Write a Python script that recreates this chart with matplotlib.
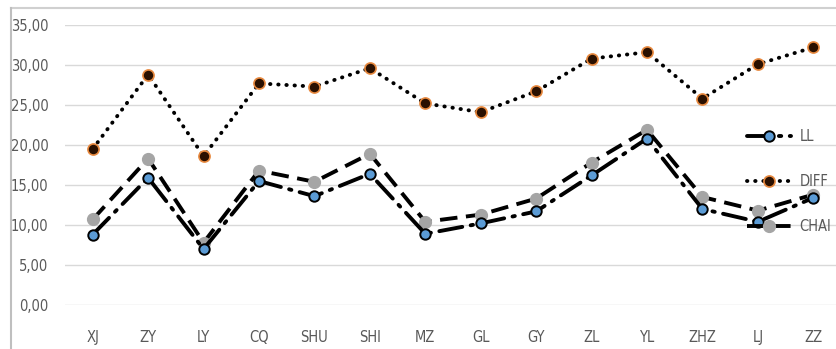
import matplotlib.pyplot as plt
from matplotlib.lines import Line2D

categories = ["XJ", "ZY", "LY", "CQ", "SHU", "SHI", "MZ", "GL", "GY", "ZL", "YL", "ZHZ", "LJ", "ZZ"]
ll = [8.8, 15.9, 7.0, 15.5, 13.6, 16.4, 8.9, 10.2, 11.7, 16.2, 20.8, 12.0, 10.4, 13.4]
diff = [19.5, 28.8, 18.6, 27.7, 27.3, 29.6, 25.2, 24.1, 26.7, 30.8, 31.6, 25.8, 30.1, 32.2]
chai = [10.7, 18.3, 7.8, 16.8, 15.4, 18.9, 10.4, 11.3, 13.3, 17.8, 21.9, 13.5, 11.8, 13.8]
yticks = [0, 5, 10, 15, 20, 25, 30, 35]

font = ["DejaVu Sans", "Liberation Sans"]
fprop = {"family": font, "size": 10.5, "stretch": "condensed"}
grey_txt = "#595959"

fig = plt.figure(figsize=(8.37, 3.49), dpi=100)
ax = fig.add_axes([65 / 837, 1 - 305 / 349, 776 / 837, 280 / 349])

x = list(range(len(categories)))
ax.plot(x, ll, color="black", lw=2.8, dashes=(6, 2.2, 0.6, 2.2), dash_capstyle="round",
        marker="o", ms=7.5, mfc="#5B9BD5", mec="black", mew=1.4, label="LL", zorder=3)
ax.plot(x, diff, color="black", lw=2.8, dashes=(0.1, 2.0), dash_capstyle="round",
        marker="o", ms=8, mfc="#2a1000", mec="#E8893F", mew=1.2, label="DIFF", zorder=3)
ax.plot(x, chai, color="black", lw=2.8, dashes=(4.5, 2.2), marker="o", ms=8.5,
        mfc="#A5A5A5", mec="#A5A5A5", label="CHAI", zorder=2)

ax.set_xlim(-0.5, len(categories) - 0.5)
ax.set_ylim(0, 35)
ax.set_yticks(yticks)
ax.set_yticklabels([f"{v:.2f}".replace(".", ",") for v in yticks], **fprop, color=grey_txt)
ax.set_xticks(x)
ax.set_xticklabels(categories, **fprop, color=grey_txt)
ax.tick_params(length=0, axis="y", pad=12)
ax.tick_params(length=0, axis="x", pad=18)
ax.grid(axis="y", color="#D9D9D9", lw=1)
ax.set_axisbelow(True)
for s in ax.spines.values():
    s.set_visible(False)

leg = ax.legend(loc="upper left", bbox_to_anchor=(0.862, 0.675), frameon=False,
                prop=fprop, labelspacing=2.05, handlelength=3.0,
                handletextpad=0.6)
for t in leg.get_texts():
    t.set_color(grey_txt)

# outer chart border (cropped)
fig.add_artist(Line2D([11 / 837, 1], [1 - 8 / 349, 1 - 8 / 349], color="#D0D0D0", lw=1.5))
fig.add_artist(Line2D([11 / 837, 11 / 837], [0, 1 - 8 / 349], color="#BFBFBF", lw=1.5))

fig.savefig("out.png", dpi=100)
